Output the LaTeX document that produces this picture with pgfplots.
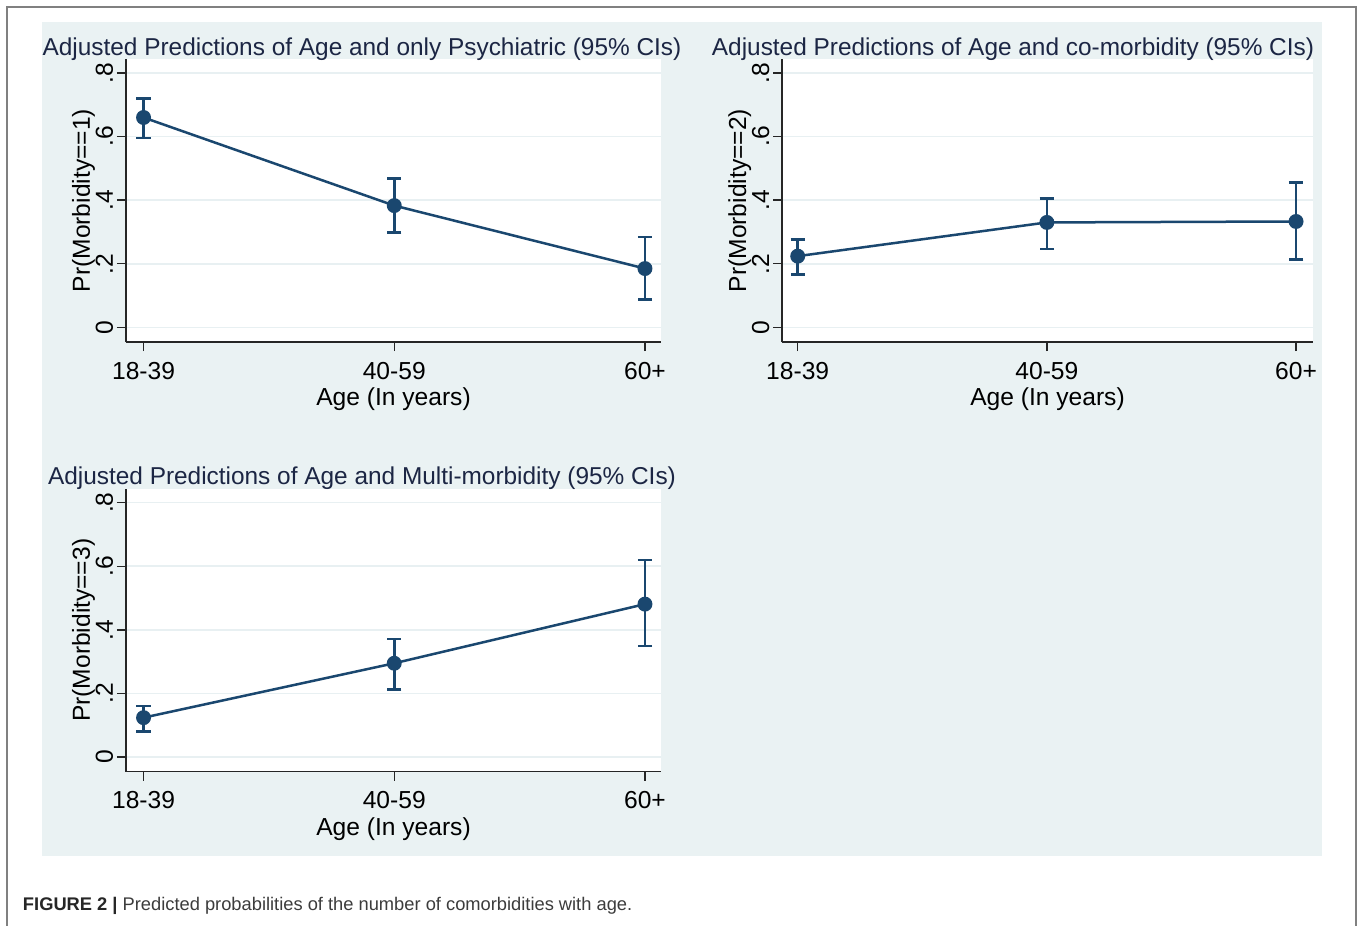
\documentclass[border=0pt]{standalone}
\usepackage{fontspec}
\setmainfont{Liberation Sans}
\usepackage{pgfplots}
\pgfplotsset{compat=1.18}
\definecolor{navy}{RGB}{26,71,111}
\definecolor{ttl}{RGB}{28,38,68}
\definecolor{bgpanel}{RGB}{234,242,243}
\definecolor{gridc}{RGB}{232,240,242}
\definecolor{framec}{RGB}{128,128,128}
\definecolor{capc}{RGB}{60,60,60}
\pgfplotsset{
  statastyle/.style={
    scale only axis,
    anchor=south west,
    axis x line*=bottom,
    axis y line*=left,
    axis background/.style={fill=white},
    axis line style={black!85, line width=0.7pt},
    tick style={black!85, line width=0.7pt},
    tick align=outside,
    major tick length=4.5pt,
    ymin=-0.046, ymax=0.843,
    ytick={0,0.2,0.4,0.6,0.8},
    yticklabels={0,.2,.4,.6,.8},
    xtick={0,1,2},
    xticklabels={18-39,40-59,60+},
    ymajorgrids,
    grid style={gridc, line width=0.8pt},
    font=\fontsize{12.3}{14}\selectfont,
    xticklabel style={anchor=base, yshift=-14pt},
    yticklabel style={xshift=-2pt, rotate=90, anchor=base},
    xlabel style={at={([yshift=-31.8pt]axis description cs:0.5,0)}, anchor=base},
    ylabel style={at={([xshift=-18pt]axis description cs:0,0.5)}, anchor=base},
    xlabel={Age (In years)},
    width=267.5pt, height=141.35pt,
    clip=false,
  },
  dataplot/.style={
    color=navy, line width=1.25pt, mark=*, mark size=3.1pt,
    mark options={fill=navy, draw=navy},
    error bars/.cd, y dir=both, y explicit,
    error bar style={line width=1.25pt, color=navy},
    error mark options={rotate=90, mark size=3.6pt, line width=1.25pt, color=navy},
  },
}
\begin{document}
\begin{tikzpicture}
\path[fill=white, use as bounding box] (0pt,0pt) rectangle (678.5pt,-463pt);
\fill[bgpanel] (21pt,-11pt) rectangle (661pt,-428pt);
\draw[framec, line width=0.9pt] (3.5pt,-463pt) -- (3.5pt,-3.5pt) -- (678pt,-3.5pt) -- (678pt,-463pt);

% Panel 1
\begin{axis}[statastyle, at={(63pt,-171pt)}, xmin=-0.07, xmax=2.064,
  ylabel={Pr(Morbidity==1)}]
\addplot[dataplot] coordinates {
  (0,0.660) += (0,0.060) -= (0,0.065)
  (1,0.383) += (0,0.085) -= (0,0.084)
  (2,0.185) += (0,0.099) -= (0,0.098)
};
\end{axis}
\node[anchor=base, text=ttl, font=\fontsize{12.2}{14}\selectfont] at (181pt,-27.5pt)
  {Adjusted Predictions of Age and only Psychiatric (95\% CIs)};

% Panel 2
\begin{axis}[statastyle, at={(391pt,-171pt)}, width=265.5pt, xmin=-0.063, xmax=2.068,
  ylabel={Pr(Morbidity==2)}]
\addplot[dataplot] coordinates {
  (0,0.224) += (0,0.053) -= (0,0.057)
  (1,0.330) += (0,0.075) -= (0,0.083)
  (2,0.333) += (0,0.122) -= (0,0.120)
};
\end{axis}
\node[anchor=base, text=ttl, font=\fontsize{12.2}{14}\selectfont] at (506.5pt,-27.5pt)
  {Adjusted Predictions of Age and co-morbidity (95\% CIs)};

% Panel 3
\begin{axis}[statastyle, at={(63pt,-385.85pt)}, xmin=-0.07, xmax=2.064,
  ylabel={Pr(Morbidity==3)}]
\addplot[dataplot] coordinates {
  (0,0.124) += (0,0.037) -= (0,0.044)
  (1,0.295) += (0,0.077) -= (0,0.082)
  (2,0.481) += (0,0.138) -= (0,0.132)
};
\end{axis}
\node[anchor=base, text=ttl, font=\fontsize{12.2}{14}\selectfont] at (181pt,-242.15pt)
  {Adjusted Predictions of Age and Multi-morbidity (95\% CIs)};

% Caption
\node[anchor=base west, inner sep=0pt, text=capc, font=\fontsize{9.15}{11}\selectfont] at (11.3pt,-455pt)
  {\textbf{\color{black!85}FIGURE 2 |} Predicted probabilities of the number of comorbidities with age.};
\end{tikzpicture}
\end{document}
